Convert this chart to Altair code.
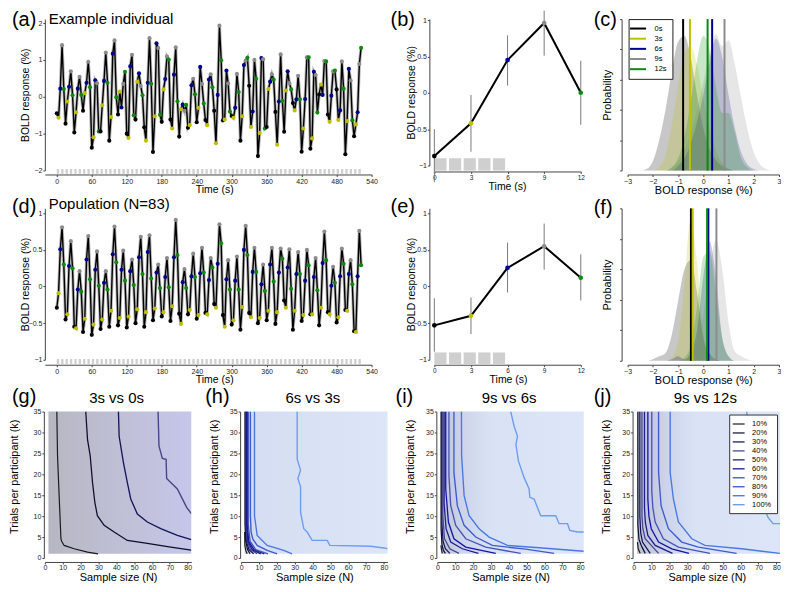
import altair as alt
import pandas as pd

FONT = "Liberation Sans"
COND = ["0s", "3s", "6s", "9s", "12s"]
COND_COLORS = ["#000000", "#bfbf00", "#00008f", "#8c8c8c", "#0a8c0a"]
TR = 3

INDIV = [-0.45, -0.57, 0.22, 1.40, 0.21, -0.73, -0.13, 0.27, 0.69, 0.04,
         -0.97, -0.42, 0.22, 0.54, 0.05, -0.38, 0.10, 0.38, 0.95, 0.26,
         -1.38, -1.10, 0.45, 0.37, -0.94, -0.94, -0.23, 0.43, 1.20, 0.38,
         -1.19, -0.55, 1.17, 1.53, -0.01, -0.48, 0.14, -0.29, 0.35, 0.68,
         -1.00, -1.12, 0.83, 1.14, -0.50, -0.62, 0.41, 0.64, 0.29, 0.04,
         -0.83, -1.19, 0.38, 1.59, 0.35, -1.50, -0.53, 1.45, 1.32, -0.49,
         -0.68, 0.20, 0.48, 1.09, 1.01, -0.62, -0.86, 0.60, 1.34, -0.12,
         -1.08, -0.34, -0.21, -0.38, -0.22, -0.84, -0.77, 0.31, 0.49, 0.07,
         -0.69, -0.30, 0.81, 0.35, -0.18, -0.63, -0.77, 0.47, 0.61, 0.26,
         -0.38, -1.26, 0.05, 1.93, 0.99, -0.64, -0.62, 0.71, 0.36, -0.40,
         -0.52, -0.57, -0.30, 0.62, 0.13, -1.19, -0.53, 0.86, 0.98, 1.06,
         0.30, -0.82, -0.40, 1.00, 0.49, -1.61, -0.98, 1.05, 1.02, -0.86,
         -0.82, 0.21, 0.41, 0.61, 0.47, -0.41, -1.30, -0.13, 1.15, -0.11,
         -0.95, 0.17, 0.69, 0.37, 0.20, -0.17, -0.37, -0.07, 0.57, -0.07,
         -1.49, -0.86, -0.06, 1.07, 1.07, -1.41, -1.13, 0.68, 0.59, -0.43,
         0.06, 0.33, 0.05, 0.97, 0.96, -0.48, -0.68, 0.03, 0.69, 0.71,
         0.20, -0.63, -0.37, 0.96, 0.22, -1.56, -0.66, 0.76, 0.44, -0.64,
         -1.07, -0.75, -0.42, 0.89, 1.33]

POP = [-0.29, -0.09, 0.51, 0.81, 0.30, -0.45, -0.38, 0.28, 0.62, 0.25,
       -0.55, -0.57, -0.04, 0.21, -0.07, -0.62, -0.44, 0.37, 0.69, 0.10,
       -0.66, -0.52, 0.23, 0.48, 0.01, -0.58, -0.45, 0.05, 0.21, -0.04,
       -0.55, -0.33, 0.44, 0.82, 0.33, -0.53, -0.43, 0.23, 0.49, 0.08,
       -0.56, -0.41, 0.21, 0.37, 0.02, -0.50, -0.31, 0.40, 0.68, 0.17,
       -0.55, -0.35, 0.47, 0.70, 0.11, -0.46, -0.30, 0.19, 0.30, -0.02,
       -0.41, -0.35, 0.13, 0.39, -0.01, -0.47, -0.27, 0.40, 0.91, 0.43,
       -0.37, -0.51, 0.06, 0.24, -0.02, -0.38, -0.32, 0.14, 0.45, 0.13,
       -0.44, -0.39, 0.18, 0.53, 0.19, -0.36, -0.38, 0.09, 0.39, 0.26,
       -0.24, -0.29, 0.31, 0.85, 0.59, -0.39, -0.55, 0.10, 0.36, -0.04,
       -0.52, -0.46, 0.08, 0.41, -0.04, -0.59, -0.28, 0.50, 0.83, 0.43,
       -0.36, -0.42, 0.20, 0.53, 0.20, -0.50, -0.43, 0.03, 0.30, -0.06,
       -0.46, -0.33, 0.30, 0.53, 0.07, -0.51, -0.35, 0.19, 0.52, 0.38,
       -0.19, -0.29, 0.26, 0.51, -0.03, -0.59, -0.33, 0.17, 0.47, 0.17,
       -0.47, -0.39, 0.08, 0.50, 0.29, -0.38, -0.38, 0.13, 0.39, -0.05,
       -0.53, -0.29, 0.32, 0.75, 0.36, -0.35, -0.38, 0.01, 0.27, 0.05,
       -0.49, -0.42, 0.14, 0.52, 0.31, -0.32, -0.33, 0.17, 0.36, 0.03,
       -0.61, -0.62, 0.14, 0.76, 0.29]

STIM_PERIOD_A = 7.5
STIM_LEN_A = 4.0
N_STIM = 70

B_TIME = [0, 3, 6, 9, 12]
B_MEAN = [-0.87, -0.42, 0.45, 0.96, 0.00]
B_LO = [-1.23, -0.81, 0.10, 0.51, -0.44]
B_HI = [-0.50, -0.03, 0.79, 1.13, 0.44]
E_MEAN = [-0.53, -0.40, 0.255, 0.55, 0.12]
E_LO = [-0.89, -0.65, -0.08, 0.23, -0.19]
E_HI = [-0.16, -0.15, 0.60, 0.86, 0.44]
STIM_B_ON = [0, 1.2, 2.4, 3.6, 4.8]
STIM_B_LEN = 1.0

DENS_X = [-3, -2.75, -2.5, -2.25, -2, -1.75, -1.5, -1.25, -1, -0.75, -0.5, -0.25,
          0, 0.25, 0.5, 0.75, 1, 1.25, 1.5, 1.75, 2, 2.25, 2.5, 2.75, 3]
C_DENS = {
    "0s": [0, 0, 0, 0.01, 0.06, 0.2, 0.4, 0.65, 0.85, 0.89, 0.75, 0.5, 0.28, 0.14, 0.07, 0.03, 0.01, 0, 0, 0, 0, 0, 0, 0, 0],
    "3s": [0, 0, 0, 0, 0, 0.02, 0.1, 0.3, 0.55, 0.78, 0.82, 0.7, 0.48, 0.28, 0.13, 0.05, 0.01, 0, 0, 0, 0, 0, 0, 0, 0],
    "6s": [0, 0, 0, 0, 0, 0, 0, 0, 0.03, 0.08, 0.18, 0.32, 0.5, 0.72, 0.87, 0.75, 0.5, 0.28, 0.12, 0.04, 0.01, 0, 0, 0, 0],
    "9s": [0, 0, 0, 0, 0, 0, 0, 0.02, 0.06, 0.13, 0.25, 0.4, 0.58, 0.78, 0.9, 0.82, 0.86, 0.7, 0.48, 0.27, 0.12, 0.04, 0.01, 0, 0],
    "12s": [0, 0, 0, 0, 0, 0, 0, 0.02, 0.08, 0.22, 0.45, 0.72, 0.89, 0.8, 0.55, 0.38, 0.38, 0.25, 0.08, 0.02, 0, 0, 0, 0, 0],
}
C_MEANS = [-0.80, -0.53, 0.35, 0.84, 0.17]
F_DENS = {
    "0s": [0, 0, 0, 0, 0.01, 0.03, 0.05, 0.17, 0.39, 0.6, 0.66, 0.45, 0.15, 0.05, 0.01, 0, 0, 0, 0, 0, 0, 0, 0, 0, 0],
    "3s": [0, 0, 0, 0, 0, 0, 0, 0.02, 0.12, 0.5, 0.93, 0.65, 0.18, 0.03, 0, 0, 0, 0, 0, 0, 0, 0, 0, 0, 0],
    "6s": [0, 0, 0, 0, 0, 0, 0, 0.01, 0.03, 0.01, 0.05, 0.2, 0.55, 0.78, 0.55, 0.15, 0.03, 0, 0, 0, 0, 0, 0, 0, 0],
    "9s": [0, 0, 0, 0, 0, 0, 0, 0, 0, 0, 0.03, 0.1, 0.3, 0.6, 0.79, 0.6, 0.25, 0.06, 0.03, 0.01, 0, 0, 0, 0, 0],
    "12s": [0, 0, 0, 0, 0, 0, 0, 0, 0, 0.02, 0.1, 0.35, 0.68, 0.72, 0.45, 0.15, 0.03, 0, 0, 0, 0, 0, 0, 0, 0],
}
F_MEANS = [-0.49, -0.42, 0.20, 0.52, 0.15]

LEVELS = ["10%", "20%", "30%", "40%", "50%", "60%", "70%", "80%", "90%", "100%"]
LEVEL_COLORS = ["#1a1a1a", "#0d0d2e", "#14145a", "#46468a", "#1c1c8e", "#1414a8",
                "#4455b5", "#3b5bd0", "#4a78e2", "#6d9cf2"]
LEVEL_WIDTHS = [1.2, 1.4, 1.4, 1.4, 1.4, 1.4, 1.4, 3.8, 1.3, 1.2]

G_LINES = {
    "10%": ([29.8, 23.9, 16.4, 10.8, 9.4, 9.0, 8.0, 7.1, 6.7], [1.0, 1.4, 2.2, 3.0, 4.0, 4.6, 14.9, 24.4, 35]),
    "20%": ([82, 70.5, 55.6, 46.2, 38.8, 33.2, 29.4, 28, 26.7, 25.4, 23.9, 22.9],
            [1.9, 2.6, 3.6, 4.2, 6.2, 7.8, 10.1, 13.3, 18, 24.4, 28.3, 35]),
    "30%": ([82, 74.2, 64.9, 57.4, 51.8, 48.1, 46.2, 44, 41.6, 41.2],
            [4.4, 5.4, 7.0, 8.6, 10.5, 14.1, 18, 22.8, 29.1, 35]),
    "40%": ([82, 79.4, 74.2, 68.2, 67.9, 65.8, 63.9, 63.4], [10.6, 12.1, 16.5, 19, 23.6, 23.8, 26.8, 35]),
}
H_LINES = {
    "10%": ([2.0, 2.1, 2.6, 3.4], [6.2, 3, 1.8, 1.0]),
    "20%": ([2.2, 2.2, 2.6, 3.6, 5.0], [35, 8, 4, 2, 1.0]),
    "30%": ([2.5, 2.5, 3.0, 4.4, 7.0], [35, 8, 4, 2, 1.0]),
    "40%": ([2.8, 2.8, 3.4, 5.3, 9.0], [35, 8, 4, 2, 1.0]),
    "50%": ([3.1, 3.1, 3.8, 6.2, 11.0], [35, 8, 4, 2, 1.0]),
    "60%": ([3.5, 3.5, 4.3, 7.2, 13.0], [35, 8, 4, 2, 1.0]),
    "70%": ([4.0, 4.0, 5.0, 8.2, 15.0], [35, 8, 4, 2, 1.0]),
    "80%": ([5.2, 5.2, 5.6, 6.6, 9.0, 14.6, 20.2], [35, 10, 6.2, 4.5, 3, 1.8, 1.0]),
    "90%": ([7.5, 7.5, 9.0, 14.6, 23.9, 28.6], [35, 10.1, 5.4, 3, 1.8, 1.0]),
    "100%": ([31.4, 31.4, 33.3, 31.8, 33.3, 33.3, 35.1, 37, 39.8, 48.2, 49.7, 72.5, 80, 82],
             [35, 23.6, 21, 19, 17, 10.9, 7, 6.2, 4.2, 4.2, 3, 2.8, 2.4, 2.2]),
}
I_LINES = {
    "10%": ([2.0, 2.4, 2.8], [3.0, 1.8, 1.1]),
    "20%": ([2.1, 2.1, 2.6, 3.4, 4.5], [35, 7, 3.2, 1.8, 1.1]),
    "30%": ([2.6, 2.6, 3.2, 4.5, 7.0], [35, 8, 4, 2.2, 1.1]),
    "40%": ([3.1, 3.1, 4.0, 7.0, 12.1], [35, 10, 4.6, 2.2, 1.1]),
    "50%": ([3.8, 3.8, 4.9, 7.5, 14, 23], [35, 13, 7, 3.8, 2.2, 1.1]),
    "60%": ([4.7, 4.7, 6.2, 9.3, 15.9, 32.7], [35, 16.5, 8.6, 4.6, 2.6, 1.1]),
    "70%": ([6.5, 6.5, 7.5, 10.3, 15.9, 27.1, 46.7], [35, 19.6, 12.5, 7.8, 4.6, 2.6, 1.1]),
    "80%": ([9.3, 9.3, 11.2, 15, 21.5, 30.8, 49.5, 65.4], [35, 20.4, 12.5, 7.8, 5, 3, 2.1, 1.1]),
    "90%": ([13.5, 13.6, 15, 17.8, 23.4, 29, 39.3, 58.9, 82], [35, 24.4, 14.9, 10.1, 7, 5, 3, 2.4, 1.6]),
    "100%": ([41.1, 43, 44.9, 44, 45.4, 48.6, 51.4, 51.8, 54.2, 56, 57.9, 66.3, 68.2, 72.9, 74.2, 78.5, 82],
             [35, 31.5, 29.1, 27.1, 23.2, 19.2, 16.5, 14.5, 14.1, 12.1, 10.1, 10.1, 8.2, 8.2, 6.6, 6.2, 6.2]),
}
J_LINES = {
    "10%": ([2.2, 2.6, 3.7], [3.8, 2.2, 1.1]),
    "20%": ([2.4, 2.4, 3.0, 4.3, 6.5], [35, 8, 4.5, 3, 1.1]),
    "30%": ([3.5, 3.5, 4.0, 5.0, 9.3], [35, 10, 6, 3.8, 1.1]),
    "40%": ([4.7, 4.7, 5.2, 6.5, 14.0], [35, 10, 7, 4.6, 1.1]),
    "50%": ([6.1, 6.1, 6.6, 8.0, 12.1, 21.8], [35, 12, 8.5, 5.4, 3, 1.1]),
    "60%": ([8.0, 8.0, 8.6, 9.9, 14.0, 21.4, 31.0], [35, 14, 10, 7, 3.8, 2.2, 1.1]),
    "70%": ([10.2, 10.2, 10.8, 12.1, 16.7, 25.1, 42.8], [35, 16, 12, 8.6, 4.6, 2.6, 1.1]),
    "80%": ([14.0, 14.0, 15.4, 19.5, 27, 36.3, 57.7], [35, 20.4, 12.5, 7, 3.8, 2.6, 1.1]),
    "90%": ([20.5, 20.5, 22.3, 25.1, 32.6, 40, 60.5, 81.9], [35, 20.4, 14.1, 8.6, 4.6, 3, 2.2, 1.1]),
    "100%": ([63.3, 65, 68, 71, 73.5, 75.3, 78.1, 82], [35, 29, 21, 15, 11.7, 9.7, 8.2, 8.2]),
}

# ---------------------------------------------------------------- helpers
cond_scale = alt.Scale(domain=COND, range=COND_COLORS)
RESOLVE = dict(color="independent", fill="independent", strokeWidth="independent")
AX = dict(labelOverlap=False, labelFlush=False, labelBound=False, tickSize=2, tickCount=60)


def lbl(txt, x, y, size, align="left"):
    return alt.Chart(pd.DataFrame({"s": [txt]})).mark_text(
        align=align, baseline="alphabetic", fontSize=size, font=FONT, color="black"
    ).encode(text="s:N", x=alt.value(x), y=alt.value(y))


def ts_panel(values, ydom, height, yvals, xoff, blk, letter, letter_y, title, title_y):
    n = len(values)
    df = pd.DataFrame({"t": [TR * i for i in range(n)], "v": values,
                       "cond": [COND[i % 5] for i in range(n)]})
    on = [STIM_PERIOD_A * j for j in range(N_STIM)]
    stim = pd.DataFrame({"t": on, "t2": [o + STIM_LEN_A for o in on],
                         "v": [blk[0]] * N_STIM, "v2": [blk[1]] * N_STIM})
    xs = alt.Scale(domain=[-20.5, 540], nice=False, zero=False)
    ys = alt.Scale(domain=ydom, nice=False, zero=False)
    xax = alt.Axis(values=list(range(0, 541, 60)), format="d", title="Time (s)", offset=xoff,
                   labelPadding=1, titleX=170, titleY=18, titleBaseline="alphabetic",
                   titleAlign="center", **AX)
    yax = alt.Axis(values=yvals, format="~g", title="BOLD response (%)", offset=0, labelPadding=1,
                   titleX=-19, titleBaseline="middle", titleAlign="center", **AX)
    blocks = alt.Chart(stim).mark_rect(color="#cfcfcf").encode(
        x=alt.X("t:Q", scale=xs, axis=xax), x2="t2", y=alt.Y("v:Q", scale=ys, axis=yax), y2="v2")
    base = alt.Chart(df)
    halo = base.mark_line(color="#b8b8b8", strokeWidth=3.2).encode(x="t:Q", y="v:Q")
    line = base.mark_line(color="black", strokeWidth=1.4).encode(x="t:Q", y="v:Q")
    pts = base.mark_circle(size=17, opacity=1).encode(
        x="t:Q", y="v:Q", color=alt.Color("cond:N", scale=cond_scale, legend=None))
    return alt.layer(blocks, halo, line, pts,
                     lbl(letter, -33, letter_y, 20),
                     lbl(title, 4, title_y, 15)).properties(width=328, height=height)


def mean_panel(mean, lo, hi, ydom, height, xoff, letter, letter_y, title_x):
    df = pd.DataFrame({"t": B_TIME, "v": mean, "lo": lo, "hi": hi, "cond": COND})
    stim = pd.DataFrame({"t": STIM_B_ON, "t2": [o + STIM_B_LEN for o in STIM_B_ON],
                         "v": [-0.90] * 5, "v2": [-1.07] * 5})
    xs = alt.Scale(domain=[0, 12], nice=False, zero=False)
    ys = alt.Scale(domain=ydom, nice=False, zero=False)
    xax = alt.Axis(values=B_TIME, format="d", title="Time (s)", offset=xoff, labelFontSize=6.5,
                   labelPadding=1, titleX=title_x, titleY=18, titleBaseline="alphabetic",
                   titleAlign="center", **AX)
    yax = alt.Axis(values=[-1, -0.5, 0, 0.5, 1], format="~g", title="BOLD response (%)", offset=5,
                   labelPadding=1, titleX=-18, titleBaseline="middle", titleAlign="center", **AX)
    blocks = alt.Chart(stim).mark_rect(color="#cfcfcf").encode(
        x=alt.X("t:Q", scale=xs, axis=xax), x2="t2", y=alt.Y("v:Q", scale=ys, axis=yax), y2="v2")
    base = alt.Chart(df)
    err = base.mark_rule(color="#7a7a7a", strokeWidth=1).encode(x="t:Q", y="lo:Q", y2="hi")
    line = base.mark_line(color="black", strokeWidth=2).encode(x="t:Q", y="v:Q")
    pts = base.mark_circle(size=22, opacity=1).encode(
        x="t:Q", y="v:Q", color=alt.Color("cond:N", scale=cond_scale, legend=None))
    return alt.layer(blocks, err, line, pts, lbl(letter, -44, letter_y, 20)).properties(
        width=147, height=height)


def dens_panel(dens, means, height, letter, letter_y, show_legend):
    xs = alt.Scale(domain=[-3, 3], nice=False, zero=False)
    ys = alt.Scale(domain=[0, 1], nice=False, zero=False)
    xax = alt.Axis(values=[-3, -2, -1, 0, 1, 2, 3], format="d", title="BOLD response (%)", offset=4,
                   labelPadding=1, titleY=19, titleBaseline="alphabetic", titleFontSize=11, **AX)
    yax = alt.Axis(values=[0, 0.2, 0.4, 0.6, 0.8, 1.0], labels=False, title="Probability",
                   offset=6, titleX=-14, titleBaseline="middle", titleAlign="center",
                   titleFontSize=11, **AX)
    layers = []
    for idx, c in enumerate(COND):
        cdf = pd.DataFrame({"x": DENS_X, "d": dens[c]})
        layers.append(alt.Chart(cdf).mark_area(
            opacity=0.22, interpolate="monotone", color=COND_COLORS[idx]
        ).encode(x=alt.X("x:Q", scale=xs, axis=xax), y=alt.Y("d:Q", scale=ys, axis=yax)))
    mdf = pd.DataFrame({"x": means, "cond": COND})
    if show_legend:
        leg = alt.Legend(title=None, orient="none", legendX=1, legendY=0,
                         symbolType="M-2.3,0H2.3", symbolSize=49, symbolStrokeWidth=2,
                         labelFontSize=7.5, labelFont=FONT, labelOffset=12, rowPadding=1.2,
                         padding=5, strokeColor="#222", fillColor="white", cornerRadius=0)
        rules = alt.Chart(mdf).mark_rule(strokeWidth=2).encode(
            x="x:Q", color=alt.Color("cond:N", scale=cond_scale, legend=leg))
    else:
        rules = alt.Chart(mdf).mark_rule(strokeWidth=2).encode(
            x="x:Q", color=alt.Color("cond:N", scale=cond_scale, legend=None))
    layers.append(rules)
    layers.append(lbl(letter, -34, letter_y, 20))
    return alt.layer(*layers).properties(width=152, height=height)


def contour_panel(lines, stops, letter, letter_x, title, show_legend, ytitle_x):
    rows = []
    for lev, (ns, ks) in lines.items():
        for i, (nv, kv) in enumerate(zip(ns, ks)):
            rows.append({"N": nv, "k": kv, "level": lev, "idx": i})
    df = pd.DataFrame(rows)
    bg_df = pd.DataFrame({"N": [2], "N2": [82], "k": [1], "k2": [35]})
    xs = alt.Scale(domain=[0, 82], nice=False, zero=False)
    ys = alt.Scale(domain=[0, 35], nice=False, zero=False)
    xax = alt.Axis(values=list(range(0, 81, 10)), format="d", title="Sample size (N)", offset=4,
                   labelPadding=0, titleY=19, titleBaseline="alphabetic", titleFontSize=11, **AX)
    yax = alt.Axis(values=list(range(0, 36, 5)), format="d", title="Trials per participant (k)",
                   offset=1, labelPadding=1, titleX=ytitle_x, titleY=65, titleBaseline="middle",
                   titleAlign="center", titleFontSize=11, **AX)
    grad = alt.Gradient(gradient="linear", x1=0, x2=1, y1=0, y2=0,
                        stops=[alt.GradientStop(color=c, offset=o) for o, c in stops])
    bg = alt.Chart(bg_df).mark_rect(color=grad).encode(
        x=alt.X("N:Q", scale=xs, axis=xax), x2="N2",
        y=alt.Y("k:Q", scale=ys, axis=yax), y2="k2")
    if show_legend:
        leg = alt.Legend(title=None, orient="none", legendX=96, legendY=3,
                         symbolType="M-1.7,0H1.7", symbolSize=49,
                         labelFontSize=7.5, labelFont=FONT, labelOffset=9, rowPadding=1.0,
                         padding=5, strokeColor="#333", fillColor="white", cornerRadius=0)
    else:
        leg = None
    present = [l for l in LEVELS if l in lines]
    cols = [LEVEL_COLORS[LEVELS.index(l)] for l in present]
    wids = [LEVEL_WIDTHS[LEVELS.index(l)] for l in present]
    ln = alt.Chart(df).mark_line(clip=True).encode(
        x="N:Q", y="k:Q",
        color=alt.Color("level:O", sort=present, scale=alt.Scale(domain=present, range=cols), legend=leg),
        strokeWidth=alt.StrokeWidth("level:O", sort=present, scale=alt.Scale(domain=present, range=wids),
                                    legend=leg),
        order="idx:Q")
    return alt.layer(bg, ln, lbl(letter, letter_x, -9, 20),
                     lbl(title, 72, -9, 15, align="center")).properties(width=147, height=147)


a = ts_panel(INDIV, [-2, 2.108], 152, [-2, -1, 0, 1, 2], 4, (-1.96, -2.09),
             "(a)", 6.5, "Example individual", 4.7)
b = mean_panel(B_MEAN, B_LO, B_HI, [-1, 1.0137], 147, 6, "(b)", 6.5, 73)
c = dens_panel(C_DENS, C_MEANS, 152, "(c)", 6.5, True)

d = ts_panel(POP, [-1, 1.068], 152, [-1, -0.5, 0, 0.5, 1], 5, (-0.99, -1.065),
             "(d)", 4.7, "Population (N=83)", 1)
e = mean_panel(E_MEAN, E_LO, E_HI, [-1, 1.068], 152, 5, "(e)", 4.7, 74)
f = dens_panel(F_DENS, F_MEANS, 153, "(f)", 5.7, False)

g = contour_panel(G_LINES, [(0, "#b7b7c2"), (0.5, "#bfbfd6"), (1, "#c6c6ea")], "(g)", -33,
                  "3s vs 0s", False, -29)
h = contour_panel(H_LINES, [(0, "#c6cbe0"), (0.07, "#d5ddf2"), (1, "#dde6f8")], "(h)", -36,
                  "6s vs 3s", False, -26)
i = contour_panel(I_LINES, [(0, "#bfc3d8"), (0.15, "#cdd4ea"), (0.35, "#d9e2f5"), (1, "#dde6f8")],
                  "(i)", -42, "9s vs 6s", False, -26)
j = contour_panel(J_LINES, [(0, "#bcc0d4"), (0.2, "#ccd3ea"), (0.4, "#d9e2f5"), (1, "#dde6f8")],
                  "(j)", -40, "9s vs 12s", True, -26)

row1 = alt.hconcat(a, alt.hconcat(b, c, spacing=47, bounds="flush").resolve_scale(**RESOLVE),
                   spacing=63, bounds="flush").resolve_scale(**RESOLVE)
row2 = alt.hconcat(d, alt.hconcat(e, f, spacing=47, bounds="flush").resolve_scale(**RESOLVE),
                   spacing=63, bounds="flush").resolve_scale(**RESOLVE)
row3 = alt.hconcat(g, h, i, j, spacing=50, bounds="flush").resolve_scale(**RESOLVE)
chart = alt.vconcat(row1, row2, row3, spacing=1).resolve_scale(**RESOLVE).properties(
    padding=0
).configure(font=FONT).configure_view(stroke=None).configure_axis(
    labelFont=FONT, titleFont=FONT, labelFontSize=7, titleFontSize=10.5,
    titleFontWeight="normal", labelColor="#222", titleColor="black",
    domainColor="#444", tickColor="#444", grid=False
).configure_legend(labelFont=FONT)

chart.save("out.html", embed_options={"renderer": "svg", "actions": False})
